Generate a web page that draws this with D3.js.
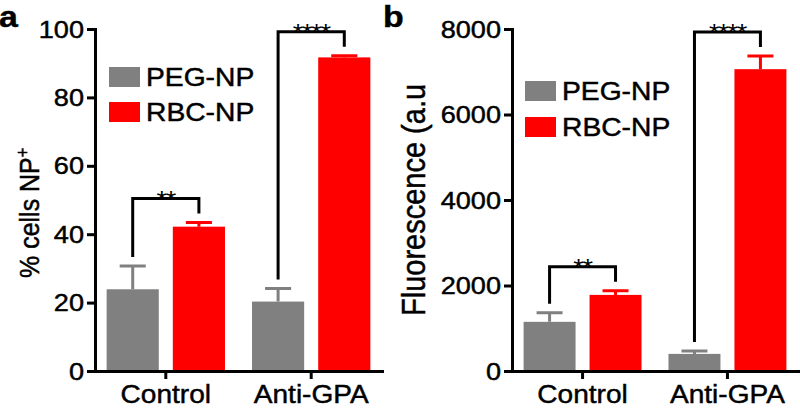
<!DOCTYPE html>
<html>
<head>
<meta charset="utf-8">
<script src="https://cdn.jsdelivr.net/npm/d3@7"></script>
<style>
  html, body { margin: 0; padding: 0; background: #fff; }
  svg { display: block; font-family: "Liberation Sans", Arial, sans-serif; }
  svg text { stroke: #000; stroke-width: 0.45px; fill: #000; }
  svg text.sig { stroke: none; }
</style>
</head>
<body>
<svg id="chart" width="800" height="408"></svg>
<script>
// ---------- data ----------
const categories = ["Control", "Anti-GPA"];
const seriesNames = ["PEG-NP", "RBC-NP"];

// panel a: % cells NP+
const pctPEG = [23.9, 20.3];
const pctPEGErr = [6.8, 3.8];
const pctRBC = [42.2, 91.7];
const pctRBCErr = [1.2, 0.5];
const pctTicks = [0, 20, 40, 60, 80, 100];

// panel b: Fluorescence (a.u)
const fluPEG = [1150, 400];
const fluPEGErr = [210, 70];
const fluRBC = [1780, 7060];
const fluRBCErr = [95, 310];
const fluTicks = [0, 2000, 4000, 6000, 8000];

const sigLabels = ["**", "****"];

// ---------- drawing ----------
const SX = 1.13; // horizontal text stretch of original figure
const colors = { "PEG-NP": "#808080", "RBC-NP": "#ff0000" };
const svg = d3.select("#chart");

function stretch(sel, sx = SX) {
  sel.each(function () {
    const t = d3.select(this);
    const x = +t.attr("x") || 0;
    const y = +t.attr("y") || 0;
    t.attr("x", 0).attr("y", 0)
     .attr("transform", `translate(${x},${y}) scale(${sx},1)`);
  });
}

function drawPanel(o) {
  const g = svg.append("g");
  const y = d3.scaleLinear().domain([0, o.max]).range([o.bottom, o.top]);
  const x0 = d3.scaleBand().domain(categories).range([o.left, o.right])
    .paddingInner(0.186).paddingOuter(0.08);
  const x1 = d3.scaleBand().domain(seriesNames).range([0, x0.bandwidth()])
    .paddingInner(0.2121).paddingOuter(0);
  const bw = x1.bandwidth();

  const rows = categories.map((c, i) => ({
    cat: c,
    vals: [
      { s: "PEG-NP", v: o.peg[i], e: o.pegErr[i] },
      { s: "RBC-NP", v: o.rbc[i], e: o.rbcErr[i] }
    ]
  }));

  // bars
  const grp = g.selectAll(".grp").data(rows).join("g")
    .attr("transform", d => `translate(${x0(d.cat)},0)`);
  grp.selectAll("rect").data(d => d.vals).join("rect")
    .attr("x", d => x1(d.s)).attr("width", bw)
    .attr("y", d => y(d.v)).attr("height", d => y(0) - y(d.v))
    .attr("fill", d => colors[d.s]);
  // error bars (upper only)
  grp.selectAll("path.err").data(d => d.vals).join("path")
    .attr("class", "err")
    .attr("d", d => {
      const cx = x1(d.s) + bw / 2;
      return `M${cx},${y(d.v)}V${y(d.v + d.e)}M${cx - bw / 4},${y(d.v + d.e)}H${cx + bw / 4}`;
    })
    .attr("stroke", d => colors[d.s]).attr("stroke-width", 3).attr("fill", "none");

  // axes
  const ya = g.append("g").attr("transform", `translate(${o.left},0)`)
    .call(d3.axisLeft(y).tickValues(o.ticks).tickFormat(d3.format("d"))
      .tickSize(8).tickSizeOuter(0));
  ya.selectAll("text").attr("x", -11).attr("font-size", 24)
    .attr("font-family", "Liberation Sans, Arial, sans-serif");
  stretch(ya.selectAll("text"));
  ya.selectAll("text").attr("dy", "0.34em");

  const xa = g.append("g").attr("transform", `translate(0,${o.bottom})`)
    .call(d3.axisBottom(x0).tickSize(8).tickSizeOuter(0));
  xa.selectAll("text").attr("y", 32).attr("dy", 0).attr("font-size", 26)
    .attr("font-family", "Liberation Sans, Arial, sans-serif");
  stretch(xa.selectAll("text"), 1.08);

  [ya, xa].forEach(a => {
    a.select(".domain").attr("stroke-width", 3).attr("stroke-linecap", "square");
    a.selectAll(".tick line").attr("stroke-width", 3);
  });

  // significance brackets
  rows.forEach((r, i) => {
    const pegTop = y(r.vals[0].v + r.vals[0].e);
    const rbcTop = y(r.vals[1].v + r.vals[1].e);
    const by = Math.min(pegTop, rbcTop) - 24;
    const lx = x0(r.cat) + x1("PEG-NP") + bw / 2;
    const rx = x0(r.cat) + x1("RBC-NP") + bw / 2;
    g.append("path")
      .attr("d", `M${lx},${pegTop - 9}V${by}H${rx}V${rbcTop - 9}`)
      .attr("stroke", "#000").attr("stroke-width", 3).attr("fill", "none");
    const t = g.append("text").attr("class", "sig").attr("x", (lx + rx) / 2).attr("y", by + 9)
      .attr("text-anchor", "middle").attr("font-size", 24)
      .attr("letter-spacing", -1.2).text(sigLabels[i]);
    stretch(t);
  });

  // y label
  const yl = g.append("text")
    .attr("transform", `translate(${o.ylx},${o.yly}) scale(${SX},1) rotate(-90)`)
    .attr("font-size", o.ylFont).attr("text-anchor", "start");
  yl.append("tspan").text(o.yLabel);
  if (o.ylSup) yl.append("tspan").attr("font-size", o.ylFont * 0.65).attr("dy", "-0.55em").text(o.ylSup);

  // legend
  seriesNames.forEach((s, i) => {
    g.append("rect").attr("x", o.legX).attr("y", o.legY[i]).attr("width", 31).attr("height", 20)
      .attr("fill", colors[s]);
    const t = g.append("text").attr("x", o.legX + 37).attr("y", o.legY[i] + 19)
      .attr("font-size", 25).text(s);
    stretch(t);
  });

  // panel letter
  const L = g.append("text").attr("x", o.letterX).attr("y", 27)
    .attr("font-size", 30).attr("font-weight", "bold").text(o.letter);
  stretch(L);
}

drawPanel({
  left: 95, right: 382, top: 29, bottom: 371, max: 100, ticks: pctTicks,
  peg: pctPEG, pegErr: pctPEGErr, rbc: pctRBC, rbcErr: pctRBCErr,
  yLabel: "% cells NP", ylSup: "+", ylFont: 25, ylx: 39, yly: 278,
  legX: 109, legY: [67, 102], letter: "a", letterX: -1
});

drawPanel({
  left: 512, right: 798, top: 29, bottom: 371, max: 8000, ticks: fluTicks,
  peg: fluPEG, pegErr: fluPEGErr, rbc: fluRBC, rbcErr: fluRBCErr,
  yLabel: "Fluorescence (a.u", ylSup: null, ylFont: 29, ylx: 425, yly: 316,
  legX: 525, legY: [81, 117], letter: "b", letterX: 383
});
</script>
</body>
</html>
